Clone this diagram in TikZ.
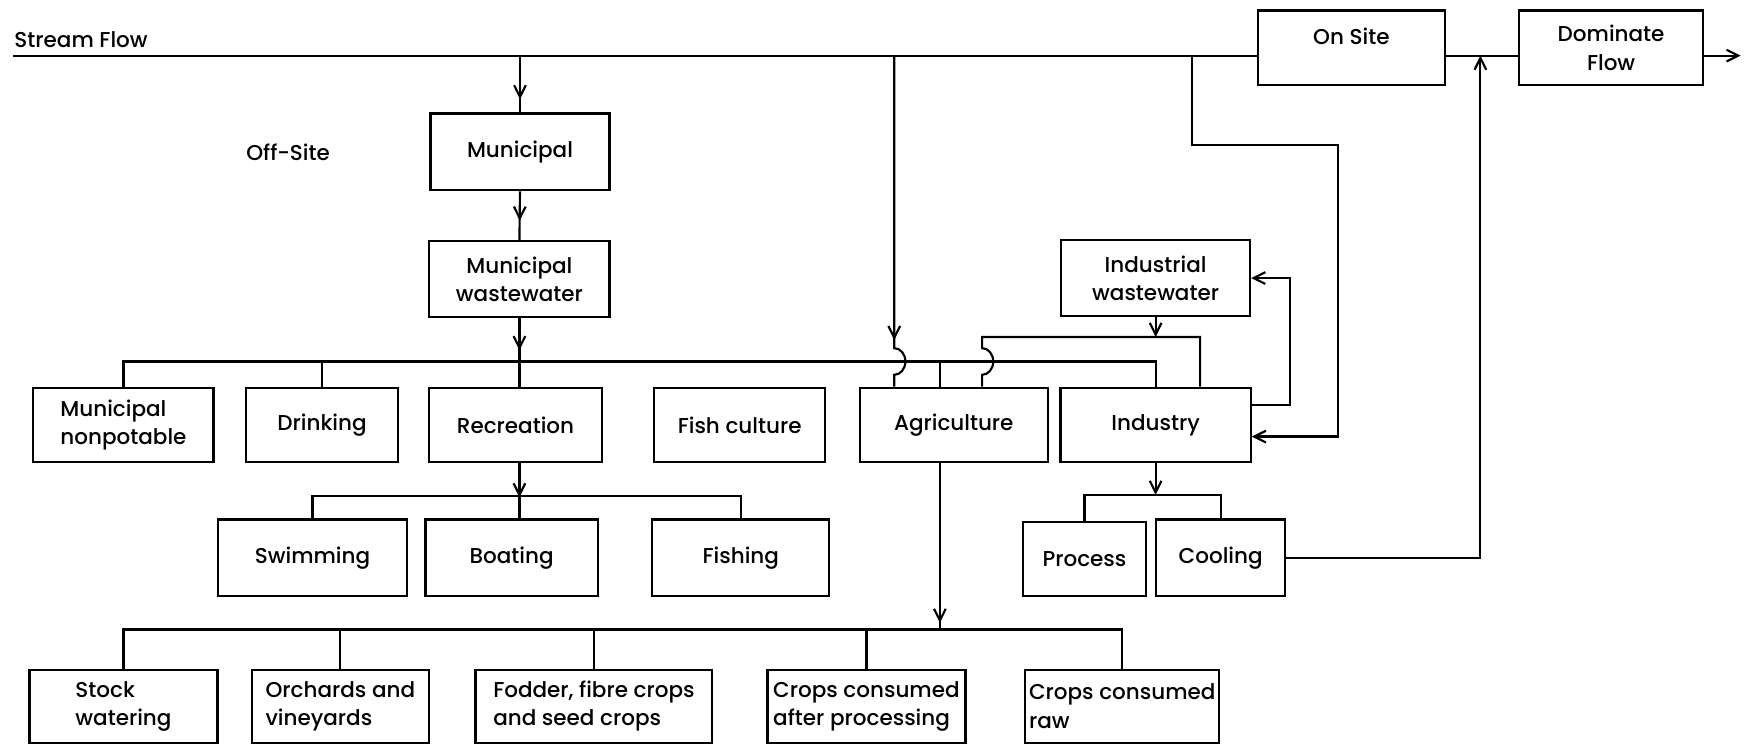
\documentclass[tikz,border=0pt]{standalone}
\usepackage{fontspec}
\setmainfont{Poppins}[UprightFont=* Medium]
\usetikzlibrary{arrows.meta,decorations.markings}

\begin{document}
\begin{tikzpicture}[line width=1.1pt, >={Straight Barb[length=6pt,width=6pt]},
		font=\fontsize{11}{14.5}\selectfont,
		box/.style={draw,rectangle,minimum height=1.34cm,align=center,inner sep=2pt},
		lbox/.style={box,align=left},
		flowarrow/.style={postaction={decorate},decoration={markings,mark=at position #1 with {\arrow{>}}}}]
				\useasboundingbox (0,0) rectangle (31.36,-13.42);
				% junctions and free ends
				\coordinate (s0) at (0.24,-1.0);
				\coordinate (s1) at (31.30,-1.0);
				\coordinate (bus1) at (9.34,-6.5);
				\coordinate (bus2) at (9.34,-8.92);
				\coordinate (bus3) at (16.90,-11.32);
				\coordinate (bus4) at (20.78,-8.9);
				\coordinate (iwbus) at (20.78,-6.06);
				\coordinate (hop1) at (16.08,-6.26);
				\coordinate (hop2) at (17.66,-6.26);
				\coordinate (iwr) at (21.58,-6.06);
				\coordinate (agdrop) at (16.90,-6.5);
				\coordinate (tap) at (21.44,-1.0);
				\coordinate (tapr) at (24.06,-2.6);
				\coordinate (loop) at (23.2,-4.98);
				\coordinate (ret) at (26.62,-1.0);

				\node(streamlbl) at (0.24,-0.72)[anchor=west,inner sep=0pt]{Stream Flow};
				\node(onsite) at (24.30,-0.86)[box,minimum width=3.36cm,text depth=0.4cm]{On Site};
				\node(domflow) at (28.97,-0.86)[box,minimum width=3.30cm]{Dominate\\Flow};
				\node(muni) at (9.35,-2.73)[box,minimum width=3.22cm,minimum height=1.38cm]{Municipal};
				\node(offsite) at (5.18,-2.74){Off-Site};
				\node(muniww) at (9.34,-5.02)[box,minimum width=3.24cm,minimum height=1.36cm]{Municipal\\wastewater};
				\node(indww) at (20.78,-5.00)[box,minimum width=3.40cm,minimum height=1.36cm]{Industrial\\wastewater};
				\node(muninp) at (2.22,-7.64)[lbox,minimum width=3.24cm]{Municipal\\nonpotable};
				\node(drinking) at (5.79,-7.64)[box,minimum width=2.74cm]{Drinking};
				\node(recreation) at (9.27,-7.64)[box,minimum width=3.10cm]{Recreation};
				\node(fishculture) at (13.30,-7.64)[box,minimum width=3.08cm]{Fish culture};
				\node(agri) at (17.15,-7.64)[box,minimum width=3.38cm]{Agriculture};
				\node(industry) at (20.78,-7.64)[box,minimum width=3.42cm]{Industry};
				\node(swimming) at (5.62,-10.03)[box,minimum width=3.41cm,minimum height=1.38cm]{Swimming};
				\node(boating) at (9.20,-10.03)[box,minimum width=3.10cm,minimum height=1.38cm]{Boating};
				\node(fishing) at (13.32,-10.03)[box,minimum width=3.18cm,minimum height=1.38cm]{Fishing};
				\node(process) at (19.50,-10.05)[box,minimum width=2.20cm]{Process};
				\node(cooling) at (21.95,-10.03)[box,minimum width=2.32cm,minimum height=1.38cm]{Cooling};
				\node(stock) at (2.22,-12.70)[lbox,minimum width=3.38cm,minimum height=1.32cm]{Stock\\watering};
				\node(orchards) at (6.12,-12.70)[lbox,minimum width=3.18cm,minimum height=1.32cm]{Orchards and\\vineyards};
				\node(fodder) at (10.68,-12.70)[lbox,minimum width=4.26cm,minimum height=1.32cm]{Fodder, fibre crops\\and seed crops};
				\node(cropsproc) at (15.58,-12.70)[lbox,minimum width=3.56cm,minimum height=1.32cm]{Crops consumed\\after processing};
				\node(cropsraw) at (20.18,-12.70)[lbox,minimum width=3.44cm,minimum height=1.32cm]{Crops consumed\\raw};

				% stream flow
				\draw (s0) -- (s0 -| onsite.west);
				\draw (onsite.east |- s0) -- (domflow.west |- s0);
				\draw[->] (domflow.east |- s0) -- (s1);
				\draw[flowarrow=0.77] (muni.north |- s0) -- (muni.north);
				\draw[flowarrow=0.6] (muni.south) -- (muniww.north);
				\draw[flowarrow=0.47] (muniww.south) -- (muniww.south |- recreation.north);

				% off site uses
				\draw (muninp.north) |- (industry.north |- bus1) -- (industry.north);
				\draw (drinking.north) -- (drinking.north |- bus1);
				\draw (agdrop) -- (agdrop |- agri.north);
				\draw[flowarrow=0.83] (hop1 |- s0) -- (hop1) arc[start angle=90,end angle=-90,x radius=0.2,y radius=0.24] -- (hop1 |- agri.north);
				\draw[->] (indww.south) -- (iwbus);
				\draw (iwr |- industry.north) |- (hop2 |- iwbus) -- (hop2) arc[start angle=90,end angle=-90,x radius=0.2,y radius=0.24] -- (hop2 |- agri.north);
				\draw[->] (tap) |- (tapr) |- ([yshift=-0.21cm]industry.east);
				\draw[->] ([yshift=0.36cm]industry.east) -| (loop |- indww.east) -- (indww.east);

				% recreation
				\draw[flowarrow=0.62] (recreation.south -| bus2) -- (boating.north -| bus2);
				\draw (swimming.north) |- (fishing.north |- bus2) -- (fishing.north);

				% agriculture
				\draw[flowarrow=0.96] (agri.south -| bus3) -- (bus3);
				\draw (stock.north) |- (cropsraw.north |- bus3) -- (cropsraw.north);
				\draw (orchards.north) -- (orchards.north |- bus3);
				\draw (fodder.north) -- (fodder.north |- bus3);
				\draw (cropsproc.north) -- (cropsproc.north |- bus3);

				% industry
				\draw[->] (industry.south) -- (bus4);
				\draw (process.north) |- (cooling.north |- bus4) -- (cooling.north);
				\draw[->] (cooling.east) -| (ret);
			\end{tikzpicture}
\end{document}
